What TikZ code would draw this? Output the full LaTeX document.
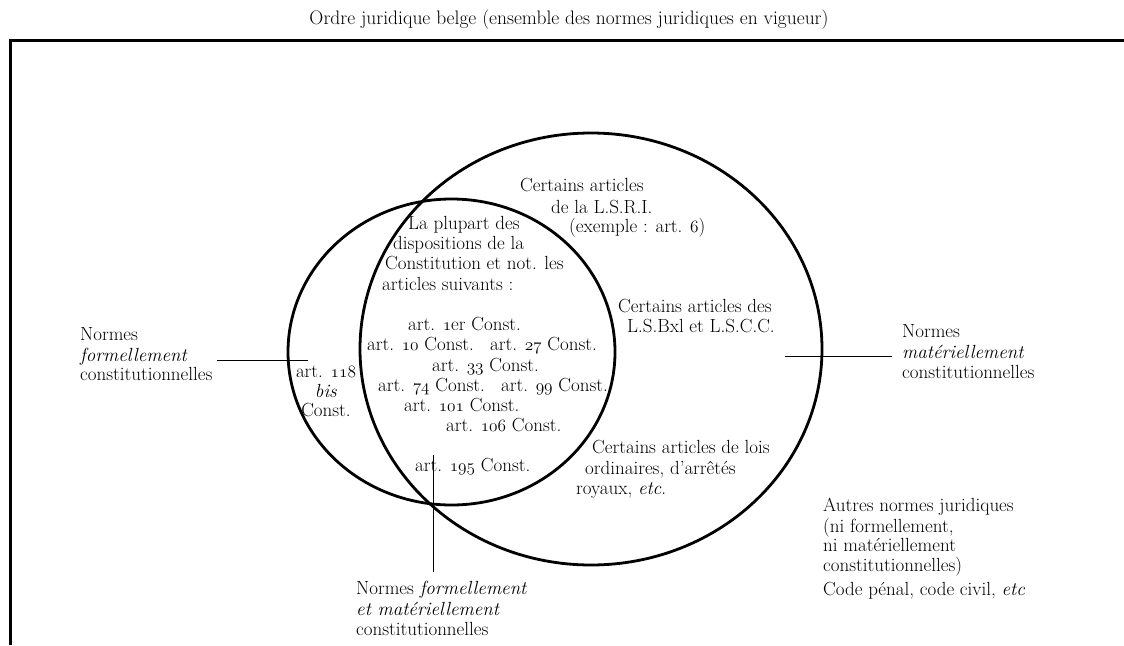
\documentclass[tikz,border=0pt]{standalone}
\newcommand\osn[1]{{\fontencoding{OML}\fontfamily{cmm}\fontseries{m}\fontshape{it}\selectfont #1}}
\begin{document}
\begin{tikzpicture}[x=1pt,y=-1pt,
  txt/.style={inner sep=0pt, font=\fontsize{19}{20}\selectfont, anchor=base west},
  ctxt/.style={txt, anchor=base},
  ring/.style={line width=2.8pt},
  frame/.style={line width=3pt},
  lead/.style={line width=1pt}]
\useasboundingbox (0,0) rectangle (1124,645);
% title
\node[inner sep=0pt, font=\fontsize{19.5}{20}\selectfont, anchor=base] (title) at (569,24)
  {Ordre juridique belge (ensemble des normes juridiques en vigueur)};
% frame
\draw[frame] (10,645) -- (10,40) -- (1124,40);
% circles
\draw[ring] (591,349) ellipse [x radius=231pt, y radius=216pt];
\draw[ring] (451.5,352) ellipse [x radius=163.5pt, y radius=153pt];
% left label
\node[txt] (lf1) at (80,340) {Normes};
\node[txt] (lf2) at (80,361) {\textit{formellement}};
\node[txt] (lf3) at (80,380) {constitutionnelles};
% art 118 bis
\node[ctxt] (b1) at (326,377) {art. \osn{118}};
\node[ctxt] (b2) at (326,397) {\textit{bis}};
\node[ctxt] (b3) at (326,416) {Const.};
% La plupart
\node[txt] (lp1) at (408,229) {La plupart des};
\node[txt] (lp2) at (393,249) {dispositions de la};
\node[txt] (lp3) at (385,269) {Constitution et not. les};
\node[txt] (lp4) at (382,290) {articles suivants :};
% articles
\node[txt] (a1) at (408,330) {art. \osn{1}er Const.};
\node[txt] (a10) at (367,350) {art. \osn{10} Const.};
\node[txt] (a27) at (490,350) {art. \osn{27} Const.};
\node[txt] (a33) at (432,371) {art. \osn{33} Const.};
\node[txt] (a74) at (378,391) {art. \osn{74} Const.};
\node[txt] (a99) at (501,391) {art. \osn{99} Const.};
\node[txt] (a101) at (404,411) {art. \osn{101} Const.};
\node[txt] (a106) at (446,431) {art. \osn{106} Const.};
\node[txt] (a195) at (415,471) {art. \osn{195} Const.};
% LSRI
\node[txt] (r1) at (520,191) {Certains articles};
\node[txt] (r2) at (551,213) {de la L.S.R.I.};
\node[txt] (r3) at (569,232) {(exemple : art. \osn{6})};
% LSBxl
\node[txt] (x1) at (618,312) {Certains articles des};
\node[txt] (x2) at (627,332) {L.S.Bxl et L.S.C.C.};
% lois
\node[txt] (o1) at (592,453) {Certains articles de lois};
\node[txt] (o2) at (585,474) {ordinaires, d'arrêtés};
\node[txt] (o3) at (576,494) {royaux, \textit{etc}.};
% autres
\node[txt] (n1) at (823,511) {Autres normes juridiques};
\node[txt] (n2) at (823,532) {(ni formellement,};
\node[txt] (n3) at (823,551) {ni matériellement};
\node[txt] (n4) at (823,571) {constitutionnelles)};
\node[txt] (n5) at (823,595) {Code pénal, code civil, \textit{etc}};
% right label
\node[txt] (m1) at (902,337) {Normes};
\node[txt] (m2) at (902,358) {\textit{matériellement}};
\node[txt] (m3) at (902,378) {constitutionnelles};
% bottom label
\node[txt] (f1) at (356,594) {Normes \textit{formellement}};
\node[txt] (f2) at (356,615) {\textit{et matériellement}};
\node[txt] (f3) at (356,635) {constitutionnelles};
% connectors
\coordinate (cl1) at (217,360);
\coordinate (cl2) at (308,360);
\coordinate (cr1) at (785,356);
\coordinate (cr2) at (892,356);
\coordinate (cb1) at (433,455);
\coordinate (cb2) at (433,572);
\draw[lead] (cl1) -- (cl2);
\draw[lead] (cr1) -- (cr2);
\draw[lead] (cb1) -- (cb2);
\end{tikzpicture}
\end{document}
